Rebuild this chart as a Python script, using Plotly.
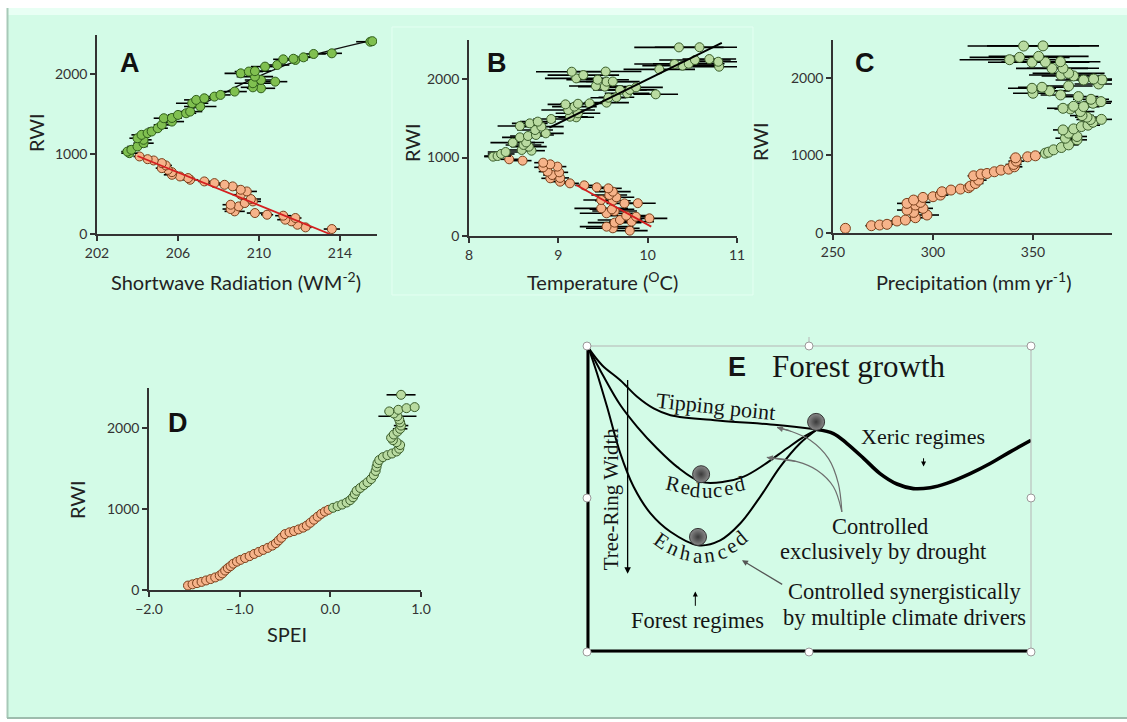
import plotly.graph_objects as go

W, H = 1127, 722
def px(x): return x / W
def py(y): return 1 - y / H

# ---------------- Panel A : Shortwave radiation ----------------
a_green_rwi = [1010, 1030, 1052, 1094, 1135, 1177, 1197, 1239, 1260, 1281, 1322, 1364, 1405, 1447, 1450,
               1488, 1509, 1530, 1593, 1634, 1676, 1696, 1717, 1738, 1780, 1821, 1833, 1884, 1904, 1925,
               1967, 2008, 2030, 2035, 2092, 2112, 2175, 2183, 2190, 2208, 2250, 2258, 2403, 2410]
a_green_sw = [203.6, 203.5, 203.7, 204.0, 204.3, 204.3, 204.0, 204.2, 204.5, 204.7, 205.0, 205.2, 205.7, 205.3, 205.7,
              206.0, 206.4, 206.6, 207.1, 206.7, 206.9, 207.3, 207.8, 208.1, 208.8, 210.1, 209.7, 209.7, 210.8, 210.1,
              209.8, 209.1, 209.5, 209.8, 210.3, 210.9, 211.8, 211.2, 211.7, 212.2, 212.7, 213.6, 215.5, 215.6]
a_green_err = [0.4, 0.3, 0.4, 0.5, 0.5, 0.4, 0.4, 0.5, 0.4, 0.4, 0.5, 0.4, 0.6, 0.5, 0.5,
               0.5, 0.5, 0.6, 0.8, 0.8, 0.6, 0.5, 0.4, 0.5, 0.6, 0.7, 0.6, 0.9, 0.6, 0.8,
               0.9, 0.8, 0.7, 0.8, 0.7, 0.6, 0.6, 0.5, 0.5, 0.6, 0.6, 0.5, 0.7, 0.3]
a_orange_rwi = [62, 83, 116, 158, 179, 200, 229, 241, 262, 283, 312, 345, 366, 387, 407, 437, 491, 532,
                553, 595, 615, 636, 657, 678, 699, 719, 740, 773, 802, 823, 857, 886, 919, 935, 969]
a_orange_sw = [213.6, 212.3, 211.9, 211.6, 211.3, 211.8, 211.2, 210.4, 209.8, 208.8, 208.6, 209.0, 208.6, 209.3,
               209.7, 209.6, 209.1, 209.4, 209.1, 208.7, 208.3, 207.8, 207.3, 206.6, 206.5, 206.1, 205.7, 205.7,
               205.5, 205.2, 205.4, 205.2, 204.8, 204.5, 204.1]
a_orange_err = [0.4, 0.3, 0.3, 0.4, 0.4, 0.3, 0.4, 0.3, 0.4, 0.5, 0.4, 0.4, 0.4, 0.3, 0.4, 0.5, 0.4, 0.5,
                0.4, 0.3, 0.3, 0.3, 0.3, 0.4, 0.3, 0.3, 0.4, 0.3, 0.3, 0.3, 0.3, 0.3, 0.3, 0.3, 0.3]
a_red_sw = [204.0, 213.5]
a_red_rwi = [975, 0]
a_black_sw = [203.5, 205.5, 207.8, 209.8, 212.5, 215.6]
a_black_rwi = [1050, 1400, 1700, 1950, 2220, 2420]

# ---------------- Panel B : Temperature ----------------
b_green_rwi = [1011, 1019, 1045, 1070, 1087, 1096, 1138, 1160, 1189, 1192, 1257, 1274, 1287, 1308, 1350,
               1393, 1401, 1435, 1457, 1490, 1512, 1520, 1563, 1605, 1648, 1677, 1685, 1690, 1699, 1762,
               1767, 1805, 1818, 1860, 1862, 1894, 1903, 1911, 1966, 1968, 1991, 2008, 2050, 2093, 2095,
               2123, 2157, 2170, 2191, 2195, 2220, 2242, 2254, 2403, 2405]
b_green_t = [8.27, 8.32, 8.36, 8.41, 8.70, 8.59, 8.67, 8.61, 8.49, 8.64, 8.57, 8.66, 8.75, 8.86, 8.74,
             8.81, 8.57, 8.68, 8.77, 8.92, 9.20, 9.13, 9.22, 9.11, 9.18, 9.08, 9.22, 9.35, 9.54, 9.56,
             9.65, 10.09, 9.77, 9.69, 9.80, 9.87, 9.52, 9.42, 9.54, 9.61, 9.44, 9.20, 9.28, 9.15, 9.53,
             10.13, 10.80, 10.39, 10.30, 10.46, 10.79, 10.53, 10.69, 10.35, 10.58]
b_green_err = [0.10, 0.15, 0.15, 0.20, 0.15, 0.15, 0.20, 0.20, 0.25, 0.20, 0.20, 0.20, 0.20, 0.20, 0.20,
               0.25, 0.25, 0.20, 0.20, 0.20, 0.20, 0.20, 0.25, 0.30, 0.25, 0.20, 0.20, 0.20, 0.25, 0.20,
               0.20, 0.25, 0.25, 0.30, 0.30, 0.30, 0.30, 0.30, 0.35, 0.30, 0.35, 0.35, 0.40, 0.40, 0.40,
               0.40, 0.40, 0.45, 0.45, 0.40, 0.40, 0.40, 0.30, 0.50, 0.50]
b_orange_rwi = [68, 98, 119, 170, 183, 204, 225, 246, 259, 289, 318, 340, 352, 416, 418, 450, 459, 493,
                522, 565, 607, 620, 645, 671, 692, 735, 740, 777, 811, 820, 875, 884, 913, 934, 960, 977]
b_orange_t = [9.80, 9.61, 9.54, 9.63, 9.82, 9.69, 10.02, 9.87, 9.76, 9.54, 9.63, 9.60, 9.48, 9.74, 9.89,
              9.61, 9.48, 9.65, 9.57, 9.61, 9.56, 9.43, 9.29, 9.13, 9.02, 8.91, 9.02, 8.93, 9.01, 8.88,
              8.83, 8.99, 8.91, 8.83, 8.60, 8.45]
b_orange_err = [0.20, 0.30, 0.30, 0.30, 0.25, 0.25, 0.20, 0.20, 0.25, 0.30, 0.25, 0.25, 0.30, 0.20, 0.20,
                0.20, 0.20, 0.20, 0.20, 0.20, 0.15, 0.15, 0.10, 0.10, 0.10, 0.10, 0.10, 0.10, 0.10, 0.10,
                0.10, 0.10, 0.10, 0.10, 0.10, 0.10]
b_red_t = [9.20, 10.04]
b_red_rwi = [650, 119]
b_black_t = [8.90, 10.83]
b_black_rwi = [1380, 2460]

# ---------------- Panel C : Precipitation ----------------
c_green_rwi = [1030, 1043, 1073, 1103, 1137, 1202, 1223, 1245, 1288, 1330, 1343, 1373, 1391, 1429, 1464,
               1466, 1494, 1515, 1567, 1601, 1609, 1631, 1635, 1674, 1695, 1725, 1760, 1781, 1803, 1833,
               1867, 1880, 1897, 1923, 1974, 1976, 1987, 2026, 2039, 2060, 2124, 2126, 2202, 2205, 2210,
               2236, 2266, 2279, 2412, 2414]
c_green_p = [356.2, 357.8, 360.3, 364.2, 367.8, 372.0, 366.2, 372.0, 367.8, 365.0, 370.3, 374.2, 377.5, 380.0, 378.7,
             384.2, 377.0, 374.5, 373.7, 368.7, 365.0, 375.3, 370.3, 380.0, 384.0, 379.0, 372.7, 363.8, 350.0, 358.3,
             349.5, 354.5, 367.8, 382.8, 375.3, 384.5, 380.3, 370.3, 364.0, 367.8, 359.5, 365.0, 349.5, 356.2, 363.7,
             338.3, 343.3, 352.8, 345.3, 355.0]
c_green_err = [3, 3, 4, 4, 5, 5, 5, 5, 5, 5, 5, 6, 6, 6, 7,
               7, 6, 6, 7, 8, 8, 8, 8, 9, 9, 9, 10, 10, 10, 10,
               12, 12, 12, 12, 14, 12, 14, 16, 16, 18, 18, 18, 22, 22, 20,
               25, 25, 25, 28, 28]
c_orange_rwi = [60, 94, 103, 112, 155, 167, 197, 232, 266, 296, 318, 361, 382, 395, 425, 459, 468, 489, 532,
                554, 567, 584, 605, 639, 682, 738, 760, 768, 790, 811, 824, 854, 884, 927, 970, 983, 996]
c_orange_p = [256.2, 269.2, 273.3, 277.0, 282.0, 286.2, 291.2, 297.0, 290.3, 287.0, 295.0, 291.2, 287.0, 293.7,
              290.3, 295.0, 300.0, 303.7, 304.5, 309.0, 313.7, 317.8, 318.7, 321.2, 322.8, 320.3, 324.0, 327.0,
              330.7, 334.0, 337.8, 340.7, 340.3, 341.7, 341.3, 347.3, 351.2]
c_orange_err = [0, 3, 3, 3, 4, 4, 5, 6, 5, 5, 5, 5, 5, 5, 5, 4, 4, 4, 3,
                3, 3, 4, 4, 4, 4, 3, 3, 3, 3, 3, 3, 4, 4, 4, 3, 2, 2]

# ---------------- Panel D : SPEI ----------------
d_orange_spei = [-1.57, -1.52, -1.47, -1.42, -1.37, -1.32, -1.27, -1.22, -1.19, -1.16, -1.13, -1.10, -1.07,
                 -1.03, -0.99, -0.94, -0.89, -0.84, -0.79, -0.74, -0.69, -0.64, -0.60, -0.57, -0.54, -0.50,
                 -0.45, -0.40, -0.35, -0.30, -0.26, -0.22, -0.18, -0.14, -0.10, -0.06, -0.02]
d_orange_rwi = [55, 70, 85, 100, 118, 135, 155, 178, 205, 240, 270, 295, 325, 350, 372, 395, 418, 445, 470,
                495, 520, 548, 578, 612, 645, 690, 712, 728, 748, 770, 795, 830, 868, 905, 940, 968, 990]
d_green_spei = [0.03, 0.08, 0.13, 0.18, 0.22, 0.25, 0.27, 0.29, 0.33, 0.37, 0.41, 0.45, 0.48, 0.50, 0.51,
                0.52, 0.54, 0.58, 0.63, 0.68, 0.73, 0.76, 0.77, 0.73, 0.69, 0.67, 0.70, 0.74, 0.77, 0.78,
                0.77, 0.76, 0.74, 0.70, 0.65, 0.75, 0.84, 0.93, 0.78]
d_green_rwi = [1015, 1035, 1055, 1080, 1110, 1145, 1185, 1225, 1260, 1295, 1330, 1370, 1420, 1470, 1520,
               1565, 1605, 1640, 1665, 1685, 1710, 1745, 1790, 1825, 1850, 1880, 1920, 1955, 1990, 2030,
               2070, 2105, 2145, 2180, 2205, 2225, 2245, 2258, 2410]
d_green_err = [0, 0, 0, 0, 0, 0, 0, 0, 0, 0, 0, 0, 0, 0, 0,
               0, 0, 0, 0, 0, 0, 0, 0, 0, 0, 0, 0, 0.06, 0.08, 0.08,
               0.05, 0.05, 0.21, 0.05, 0.05, 0.05, 0.05, 0.03, 0.16]

# ---------------- Panel E : conceptual diagram ----------------
e_tip_x = [0.4, 3.4, 7.5, 11.3, 15.0, 18.8, 30.0, 42.8, 51.8]
e_tip_y = [99.2, 93.7, 88.8, 83.4, 79.6, 77.4, 75.6, 74.2, 72.7]
e_xer_x = [51.8, 55.5, 58.5, 62.3, 66.0, 69.8, 73.5, 77.3, 81.0, 86.3, 90.8, 95.3, 100]
e_xer_y = [72.7, 71.4, 68.2, 63.3, 58.3, 54.9, 53.4, 53.7, 55.1, 58.3, 61.6, 65.4, 69.2]
e_red_x = [0.4, 3.75, 7.5, 11.3, 15.8, 20.3, 25.7, 30.8, 35.3, 39.8, 45.0, 48.8, 51.8]
e_red_y = [99.2, 90.0, 80.7, 73.6, 66.5, 60.5, 55.6, 55.6, 57.3, 61.1, 66.5, 70.3, 72.7]
e_enh_x = [0.4, 2.25, 4.5, 7.5, 10.5, 14.3, 18.8, 25.0, 30.0, 34.5, 39.0, 43.5, 48.0, 51.8]
e_enh_y = [99.2, 91.1, 80.2, 64.9, 54.0, 45.3, 39.3, 34.9, 36.5, 42.0, 50.7, 60.5, 68.2, 72.7]
e_ball_x = [51.6, 25.7, 25.0]
e_ball_y = [75.2, 58.1, 37.6]
e_arr1_x = [57.4, 56.6, 54.4, 50.3, 45.8, 42.8]
e_arr1_y = [45.8, 55.1, 63.2, 69.2, 72.2, 73.4]
e_arr2_x = [57.4, 55.5, 51.8, 47.3, 40.5]
e_arr2_y = [45.8, 54.0, 59.4, 62.2, 63.6]

enh_letters = list("Enhanced")
enh_x = [16.8, 19.5, 22.2, 24.9, 27.6, 30.2, 32.5, 34.6]
enh_y = [36.2, 33.9, 32.2, 31.3, 31.7, 32.8, 34.5, 37.2]
enh_ang = [35, 25, 12, 0, -8, -18, -28, -40]
red_letters = list("Reduced")
red_x = [19.4, 22.1, 24.5, 27.1, 29.5, 31.8, 34.4]
red_y = [55.0, 54.0, 53.1, 52.7, 52.9, 53.5, 55.0]
red_ang = [12, 8, 5, 0, -3, -8, -12]

GREEN_A, GREEN_A_LINE = "#80c050", "#2f5e1a"
GREEN, GREEN_LINE = "#b9dba1", "#3b5e2b"
ORANGE, ORANGE_LINE = "#f6b38a", "#7a3f1a"

fig = go.Figure()

def pts(x, y, err, fill, edge, xa, ya, size=9):
    fig.add_trace(go.Scatter(
        x=x, y=y, mode="markers", xaxis=xa, yaxis=ya, showlegend=False,
        marker=dict(size=size, color=fill, line=dict(color=edge, width=1)),
        error_x=dict(type="data", array=err, color="black", thickness=1.6, width=0, visible=True)))

def line(x, y, color, xa, ya, width=1.8, shape="linear"):
    fig.add_trace(go.Scatter(x=x, y=y, mode="lines", xaxis=xa, yaxis=ya, showlegend=False,
                             line=dict(color=color, width=width, shape=shape)))

# A
pts(a_orange_sw, a_orange_rwi, a_orange_err, ORANGE, ORANGE_LINE, "x", "y")
line(a_black_sw, a_black_rwi, "#111", "x", "y", 1.4, "spline")
pts(a_green_sw, a_green_rwi, a_green_err, GREEN_A, GREEN_A_LINE, "x", "y")
line(a_red_sw, a_red_rwi, "#d42020", "x", "y", 1.8)
# B
pts(b_orange_t, b_orange_rwi, b_orange_err, ORANGE, ORANGE_LINE, "x2", "y2")
pts(b_green_t, b_green_rwi, b_green_err, GREEN, GREEN_LINE, "x2", "y2")
line(b_black_t, b_black_rwi, "black", "x2", "y2", 2)
line(b_red_t, b_red_rwi, "#d42020", "x2", "y2", 1.8)
# C
pts(c_orange_p, c_orange_rwi, c_orange_err, ORANGE, ORANGE_LINE, "x3", "y3", 10)
pts(c_green_p, c_green_rwi, c_green_err, GREEN, GREEN_LINE, "x3", "y3", 10)
# D
pts(d_orange_spei, d_orange_rwi, [0] * len(d_orange_spei), ORANGE, ORANGE_LINE, "x4", "y4", 9)
pts(d_green_spei, d_green_rwi, d_green_err, GREEN, GREEN_LINE, "x4", "y4", 9)
# E curves
line(e_tip_x, e_tip_y, "black", "x5", "y5", 2, "spline")
line(e_red_x, e_red_y, "black", "x5", "y5", 2, "spline")
line(e_enh_x, e_enh_y, "black", "x5", "y5", 2, "spline")
line(e_xer_x, e_xer_y, "black", "x5", "y5", 3.6, "spline")
line(e_arr1_x, e_arr1_y, "#6e6e6e", "x5", "y5", 1.2, "spline")
line(e_arr2_x, e_arr2_y, "#6e6e6e", "x5", "y5", 1.2, "spline")
fig.add_trace(go.Scatter(x=e_ball_x, y=e_ball_y, mode="markers", xaxis="x5", yaxis="y5", showlegend=False,
                         marker=dict(size=17, color="#8a8a8a", line=dict(color="#333", width=1),
                                     gradient=dict(type="radial", color="#3a3a3a"))))

SANS = "Lato"
def axis(dom, rng, dtick, tick0, anchor, fmt=None):
    return dict(domain=dom, range=rng, dtick=dtick, tick0=tick0, anchor=anchor, tickformat=fmt,
                automargin=False,
                showline=True, linecolor="#333", linewidth=1.5, ticks="outside", ticklen=5, tickwidth=1.5,
                tickcolor="#333", showgrid=False, zeroline=False,
                tickfont=dict(family=SANS, size=14, color="#333"))

layout = dict(
    width=W, height=H, margin=dict(l=0, r=0, t=0, b=0, pad=0, autoexpand=False),
    paper_bgcolor="#ffffff", plot_bgcolor="#ffffff", showlegend=False,
    xaxis=axis([px(97), px(377)], [202, 215.83], 4, 202, "y"),
    yaxis=axis([py(234), py(35)], [0, 2487], 1000, 0, "x"),
    xaxis2=axis([px(469), px(737)], [8, 11], 1, 8, "y2"),
    yaxis2=axis([py(236), py(40)], [0, 2497], 1000, 0, "x2"),
    xaxis3=axis([px(833), px(1112)], [250, 389.5], 50, 250, "y3"),
    yaxis3=axis([py(233), py(40)], [0, 2490], 1000, 0, "x3"),
    xaxis4=axis([px(149), px(421)], [-2, 1], 1, -2, "y4", ".1f"),
    yaxis4=axis([py(590), py(388)], [0, 2494], 1000, 0, "x4"),
    xaxis5=dict(domain=[px(587), px(1031)], range=[0, 100], visible=False, anchor="y5", automargin=False),
    yaxis5=dict(domain=[py(652), py(346)], range=[0, 100], visible=False, anchor="x5", automargin=False),
)
fig.update_layout(**layout)

shapes = []
# background mint panel with bevel
shapes.append(dict(type="rect", xref="paper", yref="paper", x0=px(7), x1=px(1127), y0=py(718), y1=py(8),
                   fillcolor="#d3fbe7", line=dict(width=0), layer="below"))
shapes.append(dict(type="rect", xref="paper", yref="paper", x0=px(7), x1=px(1127), y0=py(15), y1=py(8),
                   fillcolor="#e8fff4", line=dict(width=0), layer="below"))
shapes.append(dict(type="line", xref="paper", yref="paper", x0=px(7.5), x1=px(7.5), y0=py(718), y1=py(8),
                   line=dict(color="#a7c9b8", width=2), layer="below"))
shapes.append(dict(type="line", xref="paper", yref="paper", x0=px(7), x1=px(1127), y0=py(718), y1=py(718),
                   line=dict(color="#9dbcad", width=2), layer="below"))
shapes.append(dict(type="rect", xref="paper", yref="paper", x0=px(392), x1=px(753), y0=py(295), y1=py(27),
                   line=dict(color="#e4fff2", width=1), layer="below"))
# panel E frame (selection box), axis lines, handles
shapes.append(dict(type="rect", xref="paper", yref="paper", x0=px(587), x1=px(1031), y0=py(652), y1=py(346),
                   line=dict(color="#b5b5b5", width=1)))
shapes.append(dict(type="line", xref="paper", yref="paper", x0=px(588), x1=px(588), y0=py(652), y1=py(348),
                   line=dict(color="black", width=3)))
shapes.append(dict(type="line", xref="paper", yref="paper", x0=px(587), x1=px(1029), y0=py(651), y1=py(651),
                   line=dict(color="black", width=3)))
shapes.append(dict(type="line", xref="paper", yref="paper", x0=px(809), x1=px(809), y0=py(342), y1=py(337),
                   line=dict(color="#b5b5b5", width=1)))
for hx, hy in [(587, 346), (809, 346), (1031, 346), (587, 498), (1031, 498), (587, 652), (809, 652), (1031, 652)]:
    shapes.append(dict(type="circle", xref="paper", yref="paper", x0=px(hx - 4), x1=px(hx + 4),
                       y0=py(hy + 4), y1=py(hy - 4), fillcolor="white", line=dict(color="#9a9a9a", width=1)))
fig.update_layout(shapes=shapes)

ann = []
def ptext(text, x, y, size=20, angle=0, family=SANS, color="#222", bold=False):
    ann.append(dict(text=f"<b>{text}</b>" if bold else text, x=px(x), y=py(y), xref="paper", yref="paper",
                    showarrow=False, textangle=angle, font=dict(family=family, size=size, color=color),
                    xanchor="center", yanchor="middle"))

# axis titles
ptext("Shortwave Radiation (WM<sup>-2</sup>)", 236, 281)
ptext("Temperature (<sup>O</sup>C)", 603, 281)
ptext("Precipitation (mm yr<sup>-1</sup>)", 974, 281)
ptext("SPEI", 287, 634)
ptext("RWI", 36, 133, angle=-90)
ptext("RWI", 412, 143, angle=-90)
ptext("RWI", 760, 142, angle=-90)
ptext("RWI", 77, 500, angle=-90)
# panel letters
for L, lx, ly in [("A", 130, 63), ("B", 497, 63), ("C", 865, 63), ("D", 178, 423)]:
    ptext(L, lx, ly, size=27, family="Liberation Sans", color="#111", bold=True)

SERIF = "Liberation Serif"
def etext(text, x, y, size=22, angle=0, family=SERIF, bold=False):
    ann.append(dict(text=f"<b>{text}</b>" if bold else text, x=x, y=y, xref="x5", yref="y5",
                    showarrow=False, textangle=angle, font=dict(family=family, size=size, color="#151515"),
                    xanchor="center", yanchor="middle"))

etext("E", 33.8, 93.0, size=27, family="Liberation Sans", bold=True)
etext("Forest growth", 61.2, 93.2, size=31)
etext("Tipping point", 29.0, 80.2, size=22, angle=6)
etext("Xeric regimes", 75.6, 70.3, size=22)
etext("Controlled", 66.0, 41.0, size=22.5)
etext("exclusively by drought", 66.8, 32.8, size=22.5)
etext("Controlled synergistically", 71.6, 19.8, size=22.5)
etext("by multiple climate drivers", 71.6, 11.3, size=22.5)
etext("Forest regimes", 24.8, 10.2, size=22.5)
etext("Tree-Ring Width", 5.6, 50.2, size=21, angle=-90)
for ch, cx, cy, ca in zip(enh_letters, enh_x, enh_y, enh_ang):
    etext(ch, cx, cy, size=21, angle=ca)
for ch, cx, cy, ca in zip(red_letters, red_x, red_y, red_ang):
    etext(ch, cx, cy, size=21, angle=ca)

def earrow(x_head, y_head, x_tail, y_tail, color="black", width=1.2, size=1.0):
    ann.append(dict(x=x_head, y=y_head, ax=x_tail, ay=y_tail, xref="x5", yref="y5", axref="x5", ayref="y5",
                    showarrow=True, arrowhead=2, arrowsize=size, arrowwidth=width, arrowcolor=color, text="",
                    standoff=0, startstandoff=0))

earrow(9.15, 25.6, 9.15, 89.4, "black", 1.3)
earrow(75.8, 60.6, 75.8, 63.8, "black", 1.0)
earrow(24.4, 19.8, 24.4, 14.6, "black", 1.0)
earrow(34.9, 30.0, 44.3, 21.8, "#555", 1.2)
earrow(e_arr1_x[-1], e_arr1_y[-1], e_arr1_x[-2], e_arr1_y[-2], "#6e6e6e", 1.2)
earrow(e_arr2_x[-1], e_arr2_y[-1], e_arr2_x[-2], e_arr2_y[-2], "#6e6e6e", 1.2)

fig.update_layout(annotations=ann)
fig.write_html("out.html", config={"displayModeBar": False},
               post_script="document.body.style.margin='0';document.body.style.padding='0';"
                           "document.body.style.overflow='hidden';"
                           "document.documentElement.style.overflow='hidden';")
